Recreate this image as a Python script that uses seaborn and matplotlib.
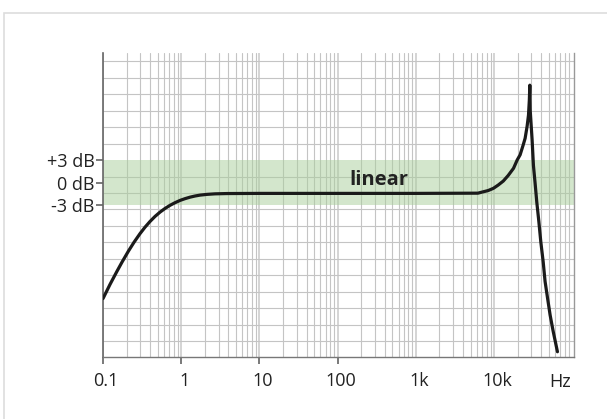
import numpy as np
import pandas as pd
import matplotlib
matplotlib.use("Agg")
import matplotlib.pyplot as plt
import matplotlib.ticker as mticker
import matplotlib.transforms as mtransforms
from matplotlib.patches import Rectangle
import seaborn as sns

# -----------------------------
# Data (frequency in Hz, level in dB)
# -----------------------------
freq_hz = [0.1, 0.123, 0.150, 0.175, 0.211, 0.249, 0.297, 0.344, 0.399, 0.462,
           0.536, 0.621, 0.72, 0.834, 0.97, 1.12, 1.30, 1.50, 1.74, 2.14, 2.70,
           3.85, 10, 100, 1000, 6200, 7300, 8400, 9800, 11300, 13100, 15100,
           17700, 19700, 21500, 23500, 24900, 26400, 27500, 28200, 28600,
           28900, 30600, 31800, 33400, 35100, 37300, 39500, 42400, 44800,
           48300, 52000, 56700, 64500]
level_db = [-15.5, -13.6, -11.9, -10.63, -9.17, -7.98, -6.83, -5.97, -5.2, -4.53,
            -3.95, -3.46, -3.04, -2.69, -2.38, -2.15, -1.95, -1.8, -1.68, -1.58, -1.51,
            -1.47, -1.45, -1.45, -1.45, -1.42, -1.23, -1.07, -0.77, -0.33, 0.2, 0.93,
            1.9, 3.0, 3.7, 5.0, 5.9, 7.5, 9.0, 11.0, 13.0,
            9.7, 5.7, 2.3, -0.07, -2.6, -5.2, -7.9, -10.6, -13.2,
            -15.5, -17.7, -19.8, -22.6]

band_db = (-3, 3)
y_ticks = [3, 0, -3]
y_labels = ["+3 dB", "0 dB", "-3 dB"]
x_ticks = [0.1, 1, 10, 100, 1000, 10000]
x_labels = ["0.1", "1", "10", "100", "1k", "10k"]
unit_label = "Hz"
band_label = "linear"

df = pd.DataFrame({"freq": freq_hz, "level": level_db})

# -----------------------------
# Style
# -----------------------------
sns.set_style("white")
plt.rcParams["font.family"] = ["Open Sans", "DejaVu Sans"]

fig = plt.figure(figsize=(6.07, 4.19), dpi=100)
ax = fig.add_axes([103 / 607, 1 - 357 / 419, 471 / 607, 304 / 419])

# light frame around the picture
fig.add_artist(Rectangle((4 / 607, -0.2), 1.2, 1.2 - 13 / 419, transform=fig.transFigure,
                         fill=False, edgecolor="#dddddd", lw=1.2, clip_on=False))

# green tolerance band
ax.axhspan(band_db[0], band_db[1], color="#a9cf9b", alpha=0.5, lw=0, zorder=1)

sns.lineplot(data=df, x="freq", y="level", ax=ax, color="#1a1a1a", lw=2.3,
             sort=False, estimator=None, zorder=3)
ax.lines[-1].set_solid_joinstyle("round")
ax.lines[-1].set_solid_capstyle("round")

ax.set_xscale("log")
ax.set_xlim(0.1, 1.05e5)
ax.set_ylim(-23.3, 17.3)

# x ticks / grid
ax.xaxis.set_major_locator(mticker.FixedLocator(x_ticks))
ax.xaxis.set_major_formatter(mticker.FixedFormatter(x_labels))
ax.xaxis.set_minor_locator(mticker.LogLocator(base=10, subs=np.arange(2, 10), numticks=20))
ax.xaxis.set_minor_formatter(mticker.NullFormatter())

# y ticks / grid (graph-paper lines independent of the dB ticks)
grid_step = 2.196
ax.yaxis.set_major_locator(mticker.FixedLocator(y_ticks))
ax.yaxis.set_major_formatter(mticker.FixedFormatter(y_labels))
ax.yaxis.set_minor_locator(mticker.FixedLocator(3 + grid_step * np.arange(-12, 7)))

ax.tick_params(axis="both", which="major", direction="out", length=5, width=1.1,
               color="#555555", labelsize=13, labelcolor="#222222")
ax.tick_params(axis="x", which="major", pad=6, bottom=True)
ax.tick_params(axis="y", which="major", pad=1, left=True)
ax.tick_params(which="minor", length=0)
for t in ax.xaxis.get_major_ticks()[4:]:
    t.tick1line.set_visible(False)

# nudge x labels slightly right like the reference
offset = mtransforms.ScaledTranslation(3 / 100, 0, fig.dpi_scale_trans)
for lbl in ax.get_xticklabels():
    lbl.set_transform(lbl.get_transform() + offset)

ax.grid(True, which="major", axis="x", color="#d4d4d4", lw=1.4)
ax.grid(True, which="minor", axis="x", color="#c4c4c4", lw=0.8)
ax.grid(True, which="minor", axis="y", color="#c4c4c4", lw=0.8)
ax.grid(False, which="major", axis="y")
ax.set_axisbelow(True)

ax.spines["top"].set_visible(False)
ax.spines["left"].set_color("#666666")
ax.spines["left"].set_linewidth(1.2)
ax.spines["bottom"].set_color("#777777")
ax.spines["bottom"].set_linewidth(1.0)
ax.spines["right"].set_color("#999999")
ax.spines["right"].set_linewidth(1.0)

ax.set_xlabel("")
ax.set_ylabel("")

ax.text(333, 0.3, band_label, fontsize=14.5, fontweight="bold", color="#222222",
        ha="center", va="center", zorder=4)

trans = mtransforms.blended_transform_factory(ax.transData, ax.transAxes)
ax.text(7.0e4, -25 / 304, unit_label, transform=trans, fontsize=13, color="#222222",
        ha="center", va="center")

fig.savefig("out.png", dpi=100)
